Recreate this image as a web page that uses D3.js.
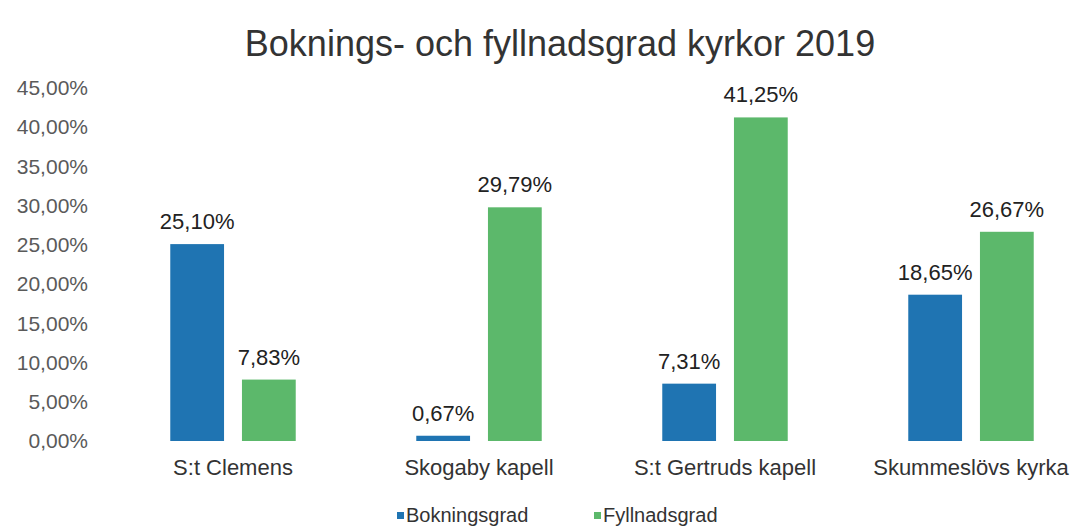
<!DOCTYPE html>
<html lang="sv">
  <head>
    <meta charset="utf-8" />
    <title>Boknings- och fyllnadsgrad kyrkor 2019</title>
    <script src="https://cdn.jsdelivr.net/npm/d3@7"></script>
    <style>
      body { margin: 0; background: #fff; }
      svg text { font-family: "Liberation Sans", Arial, sans-serif; }
    </style>
  </head>
  <body>
    <script>
      var w = 1080;
      var h = 528;

      // data
      var categories = ["S:t Clemens", "Skogaby kapell", "S:t Gertruds kapell", "Skummeslövs kyrka"];
      var seriesNames = ["Bokningsgrad", "Fyllnadsgrad"];
      var bokningsgrad = [25.10, 0.67, 7.31, 18.65];
      var fyllnadsgrad = [7.83, 29.79, 41.25, 26.67];
      var yTicks = [0, 5, 10, 15, 20, 25, 30, 35, 40, 45];
      var colors = ["#1f74b2", "#5cb86b"];

      var fmt = function (v) {
        return v.toFixed(2).replace(".", ",") + "%";
      };

      var svg = d3.select("body").append("svg")
        .attr("width", w)
        .attr("height", h);

      var x0 = d3.scaleBand()
        .domain(categories)
        .range([110, 1094])
        .paddingInner(0.49)
        .paddingOuter(0.245);

      var x1 = d3.scaleBand()
        .domain(seriesNames)
        .range([0, x0.bandwidth()])
        .paddingInner(0.25);

      var y = d3.scaleLinear()
        .domain([0, 45])
        .range([441, 88]);

      // title
      svg.append("text")
        .attr("x", 560)
        .attr("y", 56)
        .attr("text-anchor", "middle")
        .attr("font-size", 36)
        .attr("fill", "#333")
        .text("Boknings- och fyllnadsgrad kyrkor 2019");

      // y axis labels only
      var yAxis = d3.axisLeft(y)
        .tickValues(yTicks)
        .tickSize(0)
        .tickPadding(0)
        .tickFormat(fmt);

      var gy = svg.append("g")
        .attr("transform", "translate(88,0)")
        .call(yAxis);
      gy.select(".domain").remove();
      gy.selectAll("text")
        .attr("font-size", 21)
        .attr("fill", "#5a5a5a")
        .style("font-family", "'Liberation Sans', Arial, sans-serif");

      // rows of bars
      var rows = categories.map(function (c, i) {
        return { cat: c, vals: [bokningsgrad[i], fyllnadsgrad[i]] };
      });

      var groups = svg.selectAll("g.cat")
        .data(rows)
        .enter()
        .append("g")
        .attr("class", "cat")
        .attr("transform", function (d) {
          return "translate(" + x0(d.cat) + ",0)";
        });

      var cells = groups.selectAll("g.bar")
        .data(function (d) {
          return d.vals.map(function (v, j) {
            return { s: seriesNames[j], v: v, j: j };
          });
        })
        .enter()
        .append("g")
        .attr("class", "bar");

      cells.append("rect")
        .attr("x", function (d) { return x1(d.s); })
        .attr("y", function (d) { return y(d.v); })
        .attr("width", x1.bandwidth())
        .attr("height", function (d) { return y(0) - y(d.v); })
        .attr("fill", function (d) { return colors[d.j]; });

      cells.append("text")
        .attr("x", function (d) { return x1(d.s) + x1.bandwidth() / 2; })
        .attr("y", function (d) { return y(d.v) - 15; })
        .attr("text-anchor", "middle")
        .attr("font-size", 22)
        .attr("fill", "#222")
        .text(function (d) { return fmt(d.v); });

      // category labels
      var xAxis = d3.axisBottom(x0).tickSize(0).tickPadding(0);
      var gx = svg.append("g")
        .attr("transform", "translate(0,459)")
        .call(xAxis);
      gx.select(".domain").remove();
      gx.selectAll("text")
        .attr("font-size", 22)
        .attr("fill", "#333")
        .style("font-family", "'Liberation Sans', Arial, sans-serif");

      // legend
      var legendX = [397, 594];
      var legend = svg.selectAll("g.legend")
        .data(seriesNames)
        .enter()
        .append("g")
        .attr("class", "legend")
        .attr("transform", function (d, i) {
          return "translate(" + legendX[i] + ",514)";
        });
      legend.append("rect")
        .attr("x", 0)
        .attr("y", -2)
        .attr("width", 7)
        .attr("height", 7)
        .attr("fill", function (d, i) { return colors[i]; });
      legend.append("text")
        .attr("x", 9)
        .attr("y", 8)
        .attr("font-size", 20)
        .attr("fill", "#333")
        .text(function (d) { return d; });
    </script>
  </body>
</html>
